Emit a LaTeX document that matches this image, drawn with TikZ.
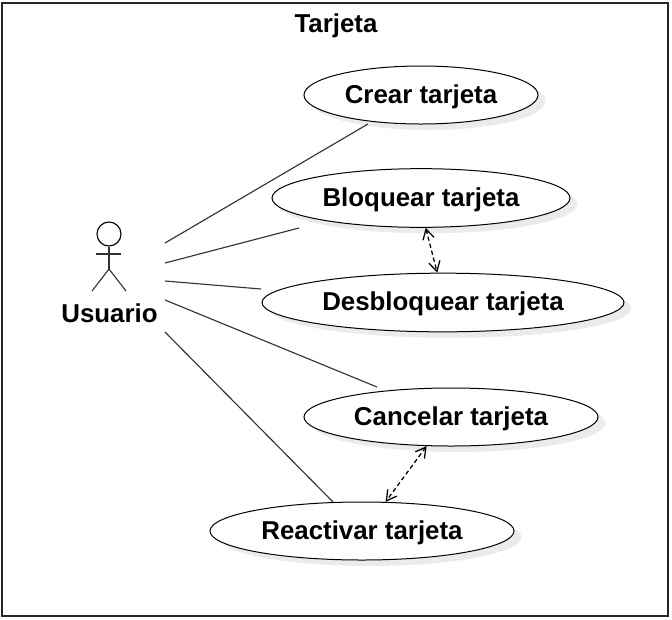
\documentclass[tikz,border=0pt]{standalone}
\usepackage{fontspec}
\setmainfont{Liberation Sans}
\usetikzlibrary{arrows.meta,shapes.geometric,shadows}
\tikzset{
	caso/.style={draw=black, fill=white, ellipse, line width=0.75pt, inner sep=0pt,
		text height=16.4pt, text depth=4pt,
		font=\fontsize{19.4pt}{22pt}\selectfont\bfseries,
		drop shadow={shadow xshift=5.5pt, shadow yshift=-4.5pt, fill=black!8, opacity=1}},
	etiqueta/.style={inner sep=0pt, text height=16.4pt, text depth=4pt,
		font=\fontsize{19.4pt}{22pt}\selectfont\bfseries},
	linea/.style={draw=black!80, line width=0.85pt},
	punteada/.style={draw=black, line width=0.95pt, dashed, dash pattern=on 3.2pt off 2.2pt,
		{Straight Barb[length=7.5pt,width=8.5pt]}-{Straight Barb[length=7.5pt,width=8.5pt]}}
}
\begin{document}
\begin{tikzpicture}[x=0.75pt, y=-0.75pt]
	\useasboundingbox (0, 0) rectangle (672, 619);
	% Marco
	\node[draw=black!85, line width=1.3pt, minimum width=499.5pt, minimum height=459.7pt,
		inner sep=0pt] (marco) at (335, 309.5) {};
	\node[etiqueta] (titulo) at (336, 24) {Tarjeta};

	% Casos de uso
	\node[caso, minimum width=175.5pt, minimum height=43.5pt] (crear) at (421, 95) {Crear tarjeta};
	\node[caso, minimum width=223.5pt, minimum height=44pt] (bloquear) at (421, 198) {Bloquear tarjeta};
	\node[caso, minimum width=271.5pt, minimum height=44pt] (desbloquear) at (443, 302.5) {Desbloquear tarjeta};
	\node[caso, minimum width=220.5pt, minimum height=43.5pt] (cancelar) at (451, 417) {Cancelar tarjeta};
	\node[caso, minimum width=228pt, minimum height=43.5pt] (reactivar) at (362, 531) {Reactivar tarjeta};

	% Actor
	\node[draw=black, circle, line width=0.85pt, minimum size=18pt, inner sep=0pt] (cabeza) at (109, 234) {};
	\coordinate (cadera) at (109, 269);
	\draw[linea] (cabeza) -- (cadera);
	\draw[linea] (96, 254) -- (121, 254);
	\draw[linea] (92, 291) -- (cadera) -- (126, 291);
	\node[etiqueta] (usuario) at (109.5, 314) {Usuario};

	% Lineas del actor
	\coordinate (a1) at (165, 243);
	\coordinate (a2) at (165, 263);
	\coordinate (a3) at (165, 281);
	\coordinate (a4) at (165, 300);
	\coordinate (a5) at (165, 332);
	\coordinate (fincrear) at (368, 124);
	\coordinate (finbloquear) at (299, 228);
	\coordinate (findesbloquear) at (261, 289);
	\coordinate (fincancelar) at (377, 387);
	\draw[linea] (a1) -- (fincrear);
	\draw[linea] (a2) -- (finbloquear);
	\draw[linea] (a3) -- (findesbloquear);
	\draw[linea] (a4) -- (fincancelar);
	\draw[linea] (a5) -- (reactivar.135);

	% Flechas punteadas
	\draw[punteada] (bloquear.279.5) -- (desbloquear.101.7);
	\draw[punteada] (cancelar.230) -- (reactivar.51.6);
\end{tikzpicture}
\end{document}
